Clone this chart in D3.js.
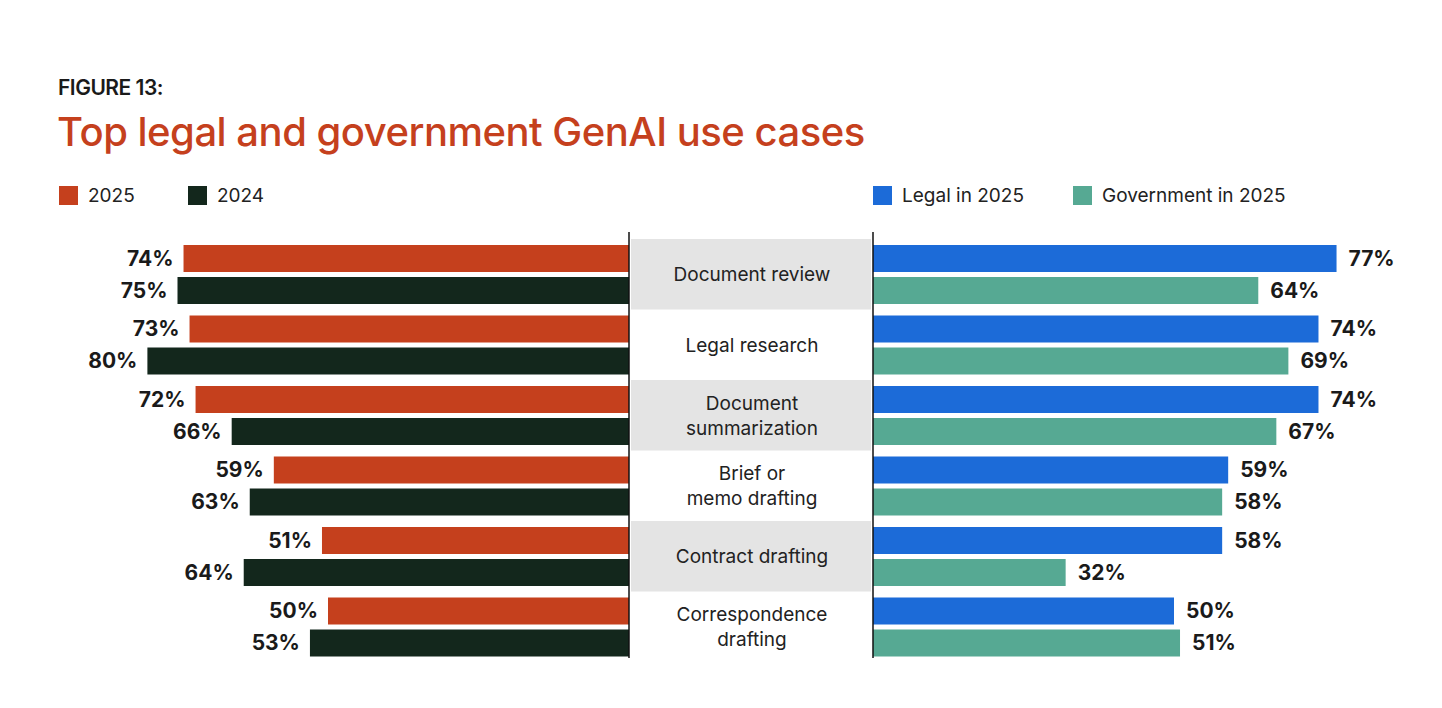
<!DOCTYPE html>
<html><head><meta charset="utf-8">
<script src="https://cdn.jsdelivr.net/npm/d3@7/dist/d3.min.js"></script>
<style>body{margin:0;background:#fff;font-family:Inter,"Open Sans",sans-serif}</style>
</head><body><svg id="c" width="1442" height="708"></svg>
<script>
const categories = [["Document review"],["Legal research"],["Document","summarization"],["Brief or","memo drafting"],["Contract drafting"],["Correspondence","drafting"]];
const v2025 = [74,73,72,59,51,50];
const v2024 = [75,80,66,63,64,53];
const legal2025 = [77,74,74,59,58,50];
const gov2025 = [64,69,67,58,32,51];
const C = {o:"#C5401D", d:"#13271C", b:"#1C6BD8", t:"#56A993"};

const svg = d3.select("#c");
svg.append("text").attr("x",58).attr("y",95).attr("font-size",21).attr("font-weight",600).attr("fill","#1a1a1a").attr("letter-spacing",-0.5).text("FIGURE 13:");
svg.append("text").attr("x",57).attr("y",146).attr("font-size",40).attr("font-weight",500).attr("fill",C.o).attr("letter-spacing",-0.5).text("Top legal and government GenAI use cases");

function legend(x,y,col,label){
  svg.append("rect").attr("x",x).attr("y",y-9).attr("width",19).attr("height",19).attr("fill",col);
  svg.append("text").attr("x",x+29).attr("y",y+7).attr("font-size",19).attr("fill","#222").text(label);
}
legend(59,195,C.o,"2025"); legend(188,195,C.d,"2024");
legend(873,195,C.b,"Legal in 2025"); legend(1073,195,C.t,"Government in 2025");

const L0=629, R0=873;
const xl = d3.scaleLinear().domain([0,100]).range([0,602]);
const yb = d3.scaleBand().domain(d3.range(6)).range([239,662]).paddingInner(0);
const bh = 27;

yb.domain().forEach(i=>{
  const y0 = yb(i);
  if(i%2===0) svg.append("rect").attr("x",631).attr("y",y0).attr("width",240).attr("height",yb.bandwidth()).attr("fill","#e4e4e4");
  const lines = categories[i];
  const cy = y0+yb.bandwidth()/2;
  lines.forEach((t,k)=>{
    svg.append("text").attr("x",752).attr("y",cy+7+(k-(lines.length-1)/2)*25).attr("text-anchor","middle").attr("font-size",19).attr("fill","#222").text(t);
  });
  const rows=[[v2025[i],legal2025[i],C.o,C.b],[v2024[i],gov2025[i],C.d,C.t]];
  rows.forEach((r,k)=>{
    const y = y0+6+k*32;
    svg.append("rect").attr("x",L0-xl(r[0])).attr("y",y).attr("width",xl(r[0])).attr("height",bh).attr("fill",r[2]);
    svg.append("text").attr("x",L0-xl(r[0])-10).attr("y",y+bh/2+7).attr("text-anchor","end").attr("font-size",21).attr("font-weight",700).attr("fill","#1a1a1a").text(r[0]+"%");
    svg.append("rect").attr("x",R0).attr("y",y).attr("width",xl(r[1])).attr("height",bh).attr("fill",r[3]);
    svg.append("text").attr("x",R0+xl(r[1])+12).attr("y",y+bh/2+7).attr("font-size",21).attr("font-weight",700).attr("fill","#1a1a1a").text(r[1]+"%");
  });
});
[L0,R0].forEach(x=>svg.append("line").attr("x1",x).attr("x2",x).attr("y1",232).attr("y2",658).attr("stroke","#111").attr("stroke-width",1.5));
</script></body></html>
